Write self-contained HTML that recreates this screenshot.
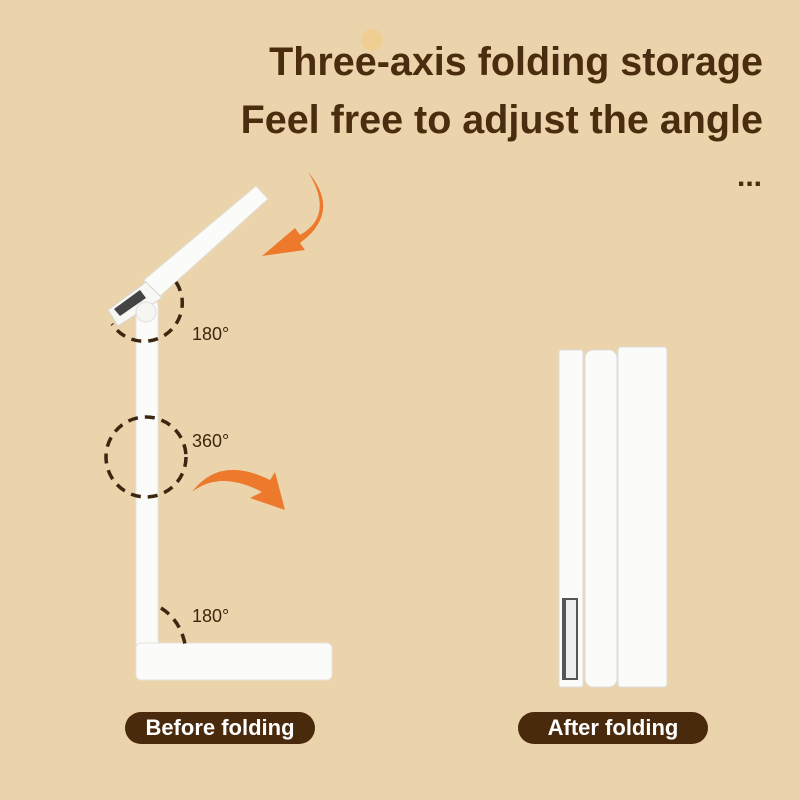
<!DOCTYPE html>
<html><head><style>
body{margin:0;width:800px;height:800px;background:#ebd4ab;overflow:hidden;position:relative;font-family:"Liberation Sans",sans-serif}
.t{position:absolute;right:37px;color:#4a2c0e;font-weight:bold;font-size:39.5px;white-space:nowrap}
.pill{position:absolute;background:#4a2a0c;color:#fff;border-radius:16px;height:32px;line-height:32px;text-align:center;font-size:22px;font-weight:bold}
</style></head><body>
<div class="t" style="top:40px">Three-axis folding storage</div>
<div class="t" style="top:98px">Feel free to adjust the angle</div>
<div class="t" style="top:160px;font-size:30px;right:38px">...</div>
<svg width="800" height="800" style="position:absolute;left:0;top:0">
<circle cx="372" cy="40" r="11" fill="#f5c46a" opacity="0.35"/>
<rect x="136" y="300" width="22" height="352" rx="6" fill="#fbfbf9" stroke="#e6e3dc"/>
<polygon points="144,280 256,186 268,199 158,298" fill="#fbfbf9" stroke="#e2ded6"/>
<polygon points="108,310 146,282 162,298 118,326" fill="#f7f7f4" stroke="#d8d4cc"/>
<polygon points="114,309 140,290 146,298 120,316" fill="#444"/>
<circle cx="146" cy="312" r="10" fill="#f5f5f2" stroke="#ddd"/>
<rect x="136" y="643" width="196" height="37" rx="5" fill="#fbfbf9" stroke="#e6e3dc"/>
<g fill="none" stroke="#3d2610" stroke-width="3.5" stroke-dasharray="10 7">
<path d="M176,282 A37,37 0 1 1 112,324"/>
<circle cx="146" cy="457" r="40"/>
<path d="M161,608 Q180,620 185,644"/>
</g>
<g font-size="18" fill="#3d2610"><text x="192" y="340">180°</text><text x="192" y="447">360°</text><text x="192" y="622">180°</text></g>
<path d="M308,172 Q335,215 300,235 L295,228 L262,256 L305,250 L300,243 Q342,212 308,172Z" fill="#ed7a2c"/>
<path d="M192,492 Q220,455 270,480 L275,472 L285,510 L250,498 L262,492 Q220,470 192,492Z" fill="#ed7a2c"/>
<rect x="559" y="350" width="24" height="337" rx="2" fill="#fbfbf9" stroke="#ddd"/>
<rect x="562" y="598" width="16" height="82" fill="#555"/>
<rect x="566" y="600" width="10" height="78" fill="#eee"/>
<rect x="585" y="350" width="32" height="337" rx="8" fill="#fbfbf9" stroke="#ddd"/>
<rect x="618" y="347" width="49" height="340" rx="3" fill="#fbfbf9" stroke="#ddd"/>
</svg>
<div class="pill" style="left:125px;top:712px;width:190px">Before folding</div>
<div class="pill" style="left:518px;top:712px;width:190px">After folding</div>
</body></html>
